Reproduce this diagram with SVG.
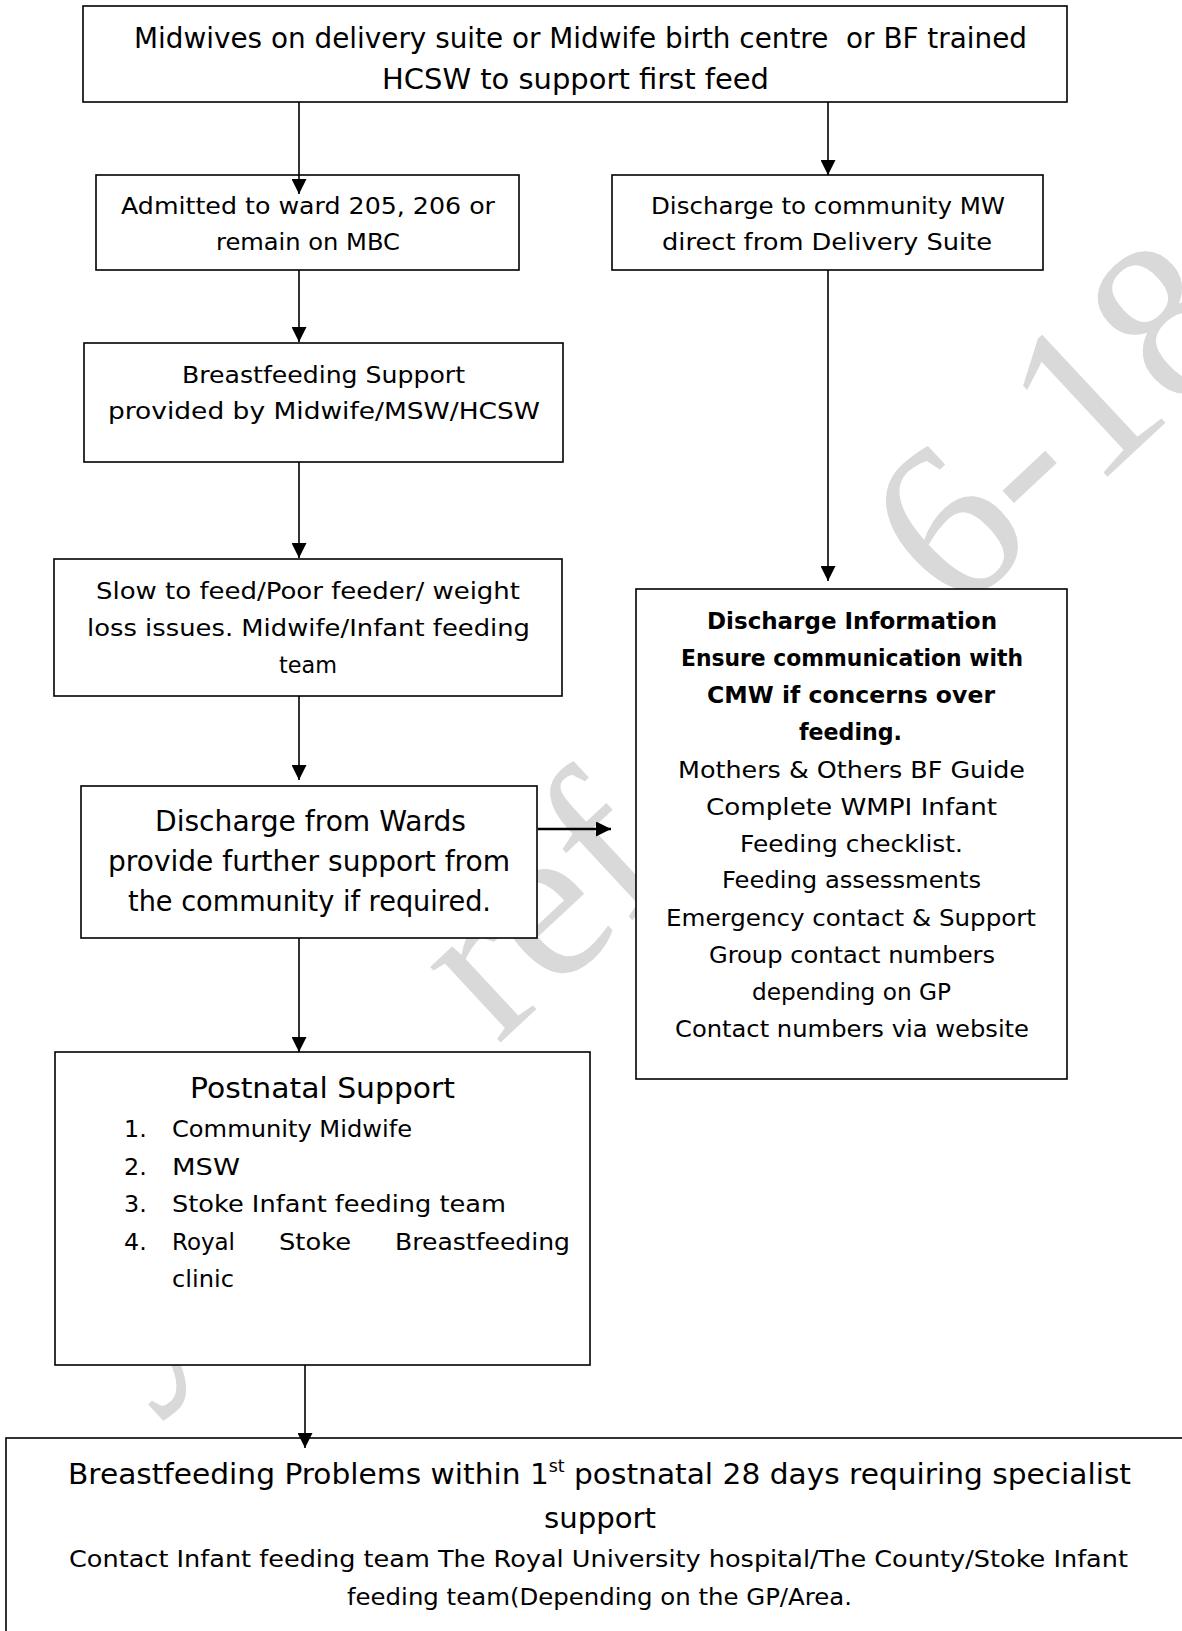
<svg xmlns="http://www.w3.org/2000/svg" width="1182" height="1631" viewBox="0 0 1182 1631">
<defs>
<style>
.box{fill:#fff;stroke:#000;stroke-width:1.6}
.t{font-family:"DejaVu Sans",sans-serif;font-size:23.8px;fill:#000}
.l{font-size:27.8px}
.h{font-size:29px}
.b{font-weight:bold}
.wm{font-family:"Liberation Serif","Times New Roman",serif;font-size:225px;fill:#d9d9d9}
.c{fill:none;stroke:#000;stroke-width:1.6}
.c2{fill:none;stroke:#000;stroke-width:2.4}
</style>
<marker id="ah" viewBox="0 0 15 15" refX="15" refY="7.5" markerWidth="15" markerHeight="15" markerUnits="userSpaceOnUse" orient="auto">
<path d="M0,0 L15,7.5 L0,15 z" fill="#000"/>
</marker>
</defs>
<rect x="0" y="0" width="1182" height="1631" fill="#fff"/>
<g id="watermark">
<text class="wm" transform="translate(128,1390) rotate(-43)"><tspan x="0">y</tspan><tspan x="505">ref</tspan><tspan x="1132">6-18</tspan></text>
</g>
<g id="n-top">
<rect class="box" x="83" y="6" width="984" height="96"/>
<text class="t l" xml:space="preserve" x="134" y="48" textLength="893" lengthAdjust="spacingAndGlyphs">Midwives on delivery suite or Midwife birth centre  or BF trained</text>
<text class="t l" x="382" y="89" textLength="387" lengthAdjust="spacingAndGlyphs">HCSW to support first feed</text>
</g>
<g id="n-admitted">
<rect class="box" x="96" y="175" width="423" height="95"/>
<text class="t" x="121" y="214" textLength="374" lengthAdjust="spacingAndGlyphs">Admitted to ward 205, 206 or</text>
<text class="t" x="216" y="250" textLength="184" lengthAdjust="spacingAndGlyphs">remain on MBC</text>
</g>
<g id="n-discharge-ds">
<rect class="box" x="612" y="175" width="431" height="95"/>
<text class="t" x="651" y="214" textLength="354" lengthAdjust="spacingAndGlyphs">Discharge to community MW</text>
<text class="t" x="662" y="250" textLength="330" lengthAdjust="spacingAndGlyphs">direct from Delivery Suite</text>
</g>
<g id="n-bf-support">
<rect class="box" x="84" y="343" width="479" height="119"/>
<text class="t" x="182" y="383" textLength="283" lengthAdjust="spacingAndGlyphs">Breastfeeding Support</text>
<text class="t" x="108" y="419" textLength="432" lengthAdjust="spacingAndGlyphs">provided by Midwife/MSW/HCSW</text>
</g>
<g id="n-slow">
<rect class="box" x="54" y="559" width="508" height="137"/>
<text class="t" x="96" y="599" textLength="424" lengthAdjust="spacingAndGlyphs">Slow to feed/Poor feeder/ weight</text>
<text class="t" x="87" y="636" textLength="443" lengthAdjust="spacingAndGlyphs">loss issues. Midwife/Infant feeding</text>
<text class="t" x="279" y="673" textLength="58" lengthAdjust="spacingAndGlyphs">team</text>
</g>
<g id="n-discharge-info">
<rect class="box" x="636" y="589" width="431" height="490"/>
<text class="t b" x="707" y="629" textLength="290" lengthAdjust="spacingAndGlyphs">Discharge Information</text>
<text class="t b" x="681" y="666" textLength="342" lengthAdjust="spacingAndGlyphs">Ensure communication with</text>
<text class="t b" x="707" y="703" textLength="288" lengthAdjust="spacingAndGlyphs">CMW if concerns over</text>
<text class="t b" x="799" y="740" textLength="103" lengthAdjust="spacingAndGlyphs">feeding.</text>
<text class="t" x="678" y="778" textLength="347" lengthAdjust="spacingAndGlyphs">Mothers &amp; Others BF Guide</text>
<text class="t" x="706" y="815" textLength="291" lengthAdjust="spacingAndGlyphs">Complete WMPI Infant</text>
<text class="t" x="740" y="852" textLength="223" lengthAdjust="spacingAndGlyphs">Feeding checklist.</text>
<text class="t" x="722" y="888" textLength="259" lengthAdjust="spacingAndGlyphs">Feeding assessments</text>
<text class="t" x="666" y="926" textLength="370" lengthAdjust="spacingAndGlyphs">Emergency contact &amp; Support</text>
<text class="t" x="709" y="963" textLength="286" lengthAdjust="spacingAndGlyphs">Group contact numbers</text>
<text class="t" x="752" y="1000" textLength="199" lengthAdjust="spacingAndGlyphs">depending on GP</text>
<text class="t" x="675" y="1037" textLength="354" lengthAdjust="spacingAndGlyphs">Contact numbers via website</text>
</g>
<g id="n-discharge-wards">
<rect class="box" x="81" y="786" width="456" height="152"/>
<text class="t l" x="155" y="831" textLength="311" lengthAdjust="spacingAndGlyphs">Discharge from Wards</text>
<text class="t l" x="108" y="871" textLength="402" lengthAdjust="spacingAndGlyphs">provide further support from</text>
<text class="t l" x="128" y="911" textLength="363" lengthAdjust="spacingAndGlyphs">the community if required.</text>
</g>
<g id="n-postnatal">
<rect class="box" x="55" y="1052" width="535" height="313"/>
<text class="t l" x="190" y="1098" textLength="265" lengthAdjust="spacingAndGlyphs">Postnatal Support</text>
<text class="t" x="124" y="1137">1.</text>
<text class="t" x="172" y="1137" textLength="240" lengthAdjust="spacingAndGlyphs">Community Midwife</text>
<text class="t" x="124" y="1175">2.</text>
<text class="t" x="172" y="1175" textLength="68" lengthAdjust="spacingAndGlyphs">MSW</text>
<text class="t" x="124" y="1212">3.</text>
<text class="t" x="172" y="1212" textLength="334" lengthAdjust="spacingAndGlyphs">Stoke Infant feeding team</text>
<text class="t" x="124" y="1250">4.</text>
<text class="t" x="172" y="1250" textLength="63" lengthAdjust="spacingAndGlyphs">Royal</text>
<text class="t" x="279" y="1250" textLength="72" lengthAdjust="spacingAndGlyphs">Stoke</text>
<text class="t" x="395" y="1250" textLength="175" lengthAdjust="spacingAndGlyphs">Breastfeeding</text>
<text class="t" x="172" y="1287" textLength="62" lengthAdjust="spacingAndGlyphs">clinic</text>
</g>
<g id="n-problems">
<rect class="box" x="6" y="1438" width="1200" height="220"/>
<text class="t h" x="68" y="1484" textLength="1063" lengthAdjust="spacingAndGlyphs">Breastfeeding Problems within 1<tspan font-size="17" dy="-12">st</tspan><tspan dy="12"> postnatal 28 days requiring specialist</tspan></text>
<text class="t h" x="544" y="1528" textLength="112" lengthAdjust="spacingAndGlyphs">support</text>
<text class="t" x="69" y="1567" textLength="1059" lengthAdjust="spacingAndGlyphs">Contact Infant feeding team The Royal University hospital/The County/Stoke Infant</text>
<text class="t" x="347" y="1605" textLength="505" lengthAdjust="spacingAndGlyphs">feeding team(Depending on the GP/Area.</text>
</g>
<g id="connectors">
<path class="c" d="M299,102 V194" marker-end="url(#ah)"/>
<path class="c" d="M828,102 V175" marker-end="url(#ah)"/>
<path class="c" d="M299,270 V342" marker-end="url(#ah)"/>
<path class="c" d="M299,462 V558" marker-end="url(#ah)"/>
<path class="c" d="M828,270 V581" marker-end="url(#ah)"/>
<path class="c" d="M299,696 V780" marker-end="url(#ah)"/>
<path class="c2" d="M538,829 H611" marker-end="url(#ah)"/>
<path class="c" d="M299,938 V1052" marker-end="url(#ah)"/>
<path class="c" d="M305,1365 V1448" marker-end="url(#ah)"/>
</g>
</svg>
